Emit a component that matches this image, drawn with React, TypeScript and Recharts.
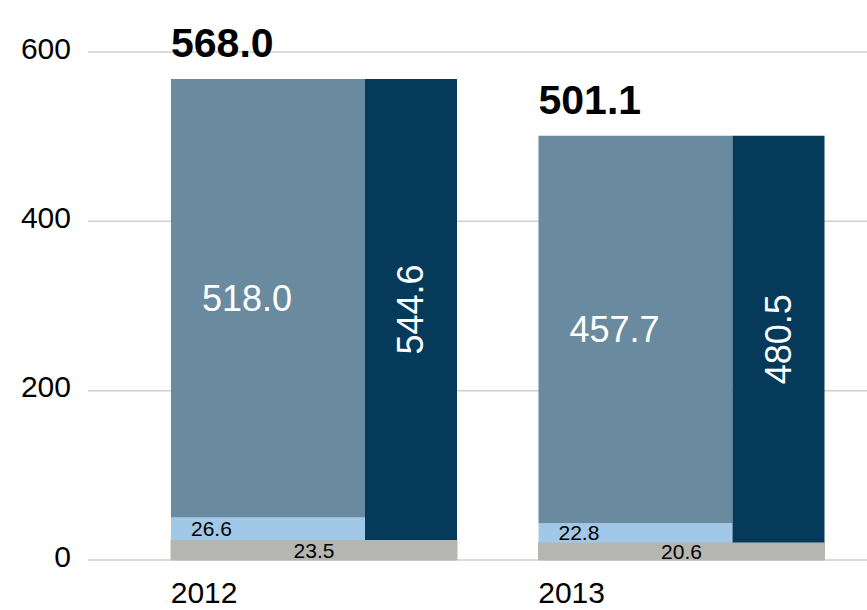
import React from 'react';
import { BarChart, Bar, XAxis, YAxis, CartesianGrid, LabelList } from 'recharts';

const years = ['2012', '2013'];
const baseValues = [23.5, 20.6];
const lightValues = [26.6, 22.8];
const steelValues = [518.0, 457.7];
const navyValues = [544.6, 480.5];
const totalValues = [568.0, 501.1];
const yTicks = [0, 200, 400, 600];

const data = years.map((year, i) => ({
  year,
  baseA: baseValues[i],
  light: lightValues[i],
  steel: steelValues[i],
  baseB: baseValues[i],
  navy: navyValues[i],
  total: totalValues[i],
}));

const FONT = '"Liberation Sans", Arial, Helvetica, sans-serif';
const LEFT_SIZE = 194;
const RIGHT_SIZE = 92;
const GROUP = LEFT_SIZE + RIGHT_SIZE;

const COLORS = {
  base: '#b5b6b1',
  light: '#a2c8e7',
  steel: '#6a8b9f',
  navy: '#053a5b',
  grid: '#d0d0d0',
};

const box = (p: any) => {
  const vb = p.viewBox || {};
  let x = Number(p.x ?? vb.x);
  let y = Number(p.y ?? vb.y);
  let w = Number(p.width ?? vb.width);
  let h = Number(p.height ?? vb.height);
  if (h < 0) {
    y += h;
    h = -h;
  }
  return { x, y, w, h };
};

const fmt = (v: any) => Number(v).toFixed(1);

const BaseLabel = (p: any) => {
  const { x, y, h } = box(p);
  return (
    <text x={x + GROUP / 2} y={y + h / 2} textAnchor="middle" dominantBaseline="central"
      fontSize={21} fill="#000" fontFamily={FONT}>{fmt(p.value)}</text>
  );
};

const LightLabel = (p: any) => {
  const { x, y, h } = box(p);
  return (
    <text x={x + 20} y={y + h / 2} textAnchor="start" dominantBaseline="central"
      fontSize={21} fill="#000" fontFamily={FONT}>{fmt(p.value)}</text>
  );
};

const SteelLabel = (p: any) => {
  const { x, y, h } = box(p);
  return (
    <text x={x + 31} y={y + h / 2} textAnchor="start" dominantBaseline="central"
      fontSize={36} fill="#fff" fontFamily={FONT}>{fmt(p.value)}</text>
  );
};

const TotalLabel = (p: any) => {
  const { x, y } = box(p);
  return (
    <text x={x} y={y - 22} textAnchor="start" fontSize={41} fontWeight="bold"
      fill="#000" fontFamily={FONT}>{fmt(p.value)}</text>
  );
};

const NavyLabel = (p: any) => {
  const { x, y, w, h } = box(p);
  const cx = x + w / 2;
  const cy = y + h / 2;
  return (
    <text x={cx} y={cy} textAnchor="middle" dominantBaseline="central"
      transform={`rotate(-90 ${cx} ${cy})`} fontSize={36} fill="#fff" fontFamily={FONT}>{fmt(p.value)}</text>
  );
};

const YTick = (p: any) => (
  <text x={p.x} y={p.y} dy={-4} textAnchor="end" dominantBaseline="central"
    fontSize={30} fill="#000" fontFamily={FONT}>{p.payload.value}</text>
);

const XTick = (p: any) => (
  <text x={p.x - GROUP / 2} y={p.y + 32} textAnchor="start" dominantBaseline="central"
    fontSize={30} fill="#000" fontFamily={FONT}>{p.payload.value}</text>
);

export default function App() {
  return (
    <div style={{ position: 'absolute', left: 0, top: 0, width: 867, height: 610, background: '#fff' }}>
      <BarChart width={867} height={610} data={data} barGap={0}
        margin={{ top: 52, right: 0, bottom: 0, left: 0 }}>
        <CartesianGrid vertical={false} stroke={COLORS.grid} strokeWidth={1.5} />
        <XAxis dataKey="year" axisLine={false} tickLine={false} tickSize={0} tickMargin={0}
          height={50} padding={{ left: 42, right: 2 }} tick={<XTick />} interval={0} />
        <YAxis type="number" domain={[0, 600]} ticks={yTicks} interval={0} axisLine={false}
          tickLine={false} tickSize={0} tickMargin={17} width={88} tick={<YTick />} />
        <Bar dataKey="baseA" stackId="a" barSize={LEFT_SIZE} fill={COLORS.base}
          stroke={COLORS.base} strokeWidth={1} isAnimationActive={false}>
          <LabelList dataKey="baseA" content={<BaseLabel />} />
        </Bar>
        <Bar dataKey="light" stackId="a" barSize={LEFT_SIZE} fill={COLORS.light} isAnimationActive={false}>
          <LabelList dataKey="light" content={<LightLabel />} />
        </Bar>
        <Bar dataKey="steel" stackId="a" barSize={LEFT_SIZE} fill={COLORS.steel} isAnimationActive={false}>
          <LabelList dataKey="steel" content={<SteelLabel />} />
          <LabelList dataKey="total" content={<TotalLabel />} />
        </Bar>
        <Bar dataKey="baseB" stackId="b" barSize={RIGHT_SIZE} fill={COLORS.base}
          stroke={COLORS.base} strokeWidth={1} isAnimationActive={false} />
        <Bar dataKey="navy" stackId="b" barSize={RIGHT_SIZE} fill={COLORS.navy} isAnimationActive={false}>
          <LabelList dataKey="navy" content={<NavyLabel />} />
        </Bar>
      </BarChart>
    </div>
  );
}
